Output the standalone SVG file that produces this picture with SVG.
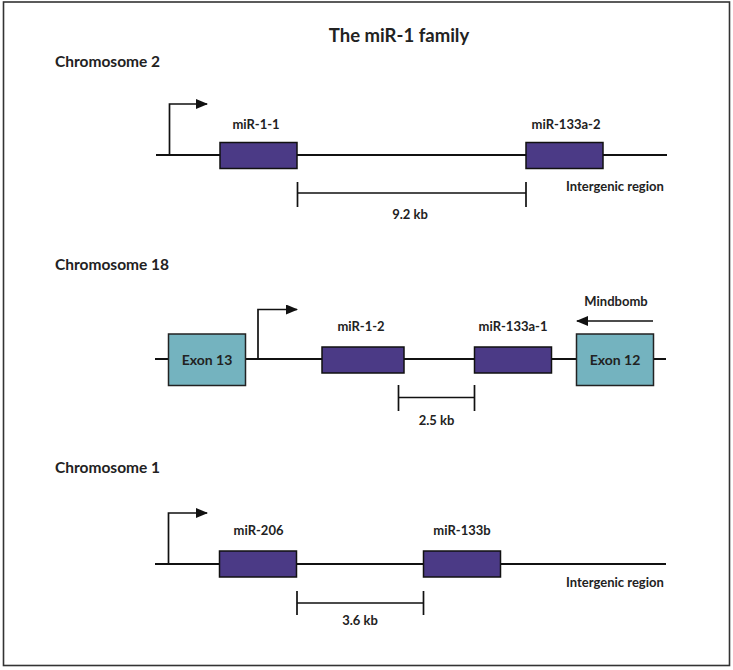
<svg xmlns="http://www.w3.org/2000/svg" width="733" height="670" viewBox="0 0 733 670">
<defs>
<marker id="ah" viewBox="0 0 12 10" refX="11" refY="5" markerWidth="12" markerHeight="10" markerUnits="userSpaceOnUse" orient="auto">
<path d="M0,0 L12,5 L0,10 Z" fill="#111"/>
</marker>
<style>
text{font-family:Lato,"Liberation Sans",sans-serif;font-weight:bold;fill:#222;}
.t{font-size:18.5px;}
.c{font-size:15.5px;}
.l{font-size:13px;}
.x{font-size:14px;}
.m{fill:#4b3a86;stroke:#111;stroke-width:1.5;}
.e{fill:#74b3bf;stroke:#222;stroke-width:1.5;}
.ln{stroke:#111;stroke-width:1.8;fill:none;}
.ar{stroke:#111;stroke-width:1.7;fill:none;}
</style>
</defs>
<rect x="3.5" y="2" width="726" height="663.5" fill="#fff" stroke="#333" stroke-width="1.6"/>
<text class="t" x="399" y="42" text-anchor="middle">The miR-1 family</text>
<text class="c" x="55" y="67">Chromosome 2</text>
<text class="c" x="55" y="270">Chromosome 18</text>
<text class="c" x="55" y="473">Chromosome 1</text>
<g id="connectors">
<line class="ln" x1="156" y1="155" x2="667" y2="155"/>
<line class="ln" x1="155" y1="359" x2="666" y2="359"/>
<line class="ln" x1="155" y1="564" x2="666" y2="564"/>
<path class="ar" d="M169.5,155 V104 H207" marker-end="url(#ah)"/>
<path class="ar" d="M258,359 V309.5 H297" marker-end="url(#ah)"/>
<path class="ar" d="M168.5,564 V513 H207" marker-end="url(#ah)"/>
<line class="ar" x1="653" y1="321" x2="577" y2="321" marker-end="url(#ah)"/>
<path class="ar" d="M297.5,182 V207 M297.5,193 H526 M526,182 V207"/>
<path class="ar" d="M398.5,385 V411 M398.5,397.5 H474.5 M474.5,385 V411"/>
<path class="ar" d="M297,591 V615 M297,603 H423.5 M423.5,591 V615"/>
</g>
<g id="mir-1-1"><rect class="m" x="220" y="142.5" width="77" height="26"/><text class="l" x="256" y="129" text-anchor="middle">miR-1-1</text></g>
<g id="mir-133a-2"><rect class="m" x="526" y="142.5" width="77" height="26"/><text class="l" x="566" y="129" text-anchor="middle">miR-133a-2</text></g>
<g id="ig1"><text class="l" x="566" y="191">Intergenic region</text></g>
<g id="kb1"><text class="l" x="410" y="219" text-anchor="middle">9.2 kb</text></g>
<g id="exon13"><rect class="e" x="168.5" y="334" width="77" height="51.5"/><text class="x" x="207" y="364.5" text-anchor="middle">Exon 13</text></g>
<g id="mir-1-2"><rect class="m" x="322" y="347" width="82" height="26"/><text class="l" x="361" y="331" text-anchor="middle">miR-1-2</text></g>
<g id="mir-133a-1"><rect class="m" x="474.5" y="347" width="77" height="26"/><text class="l" x="513" y="331" text-anchor="middle">miR-133a-1</text></g>
<g id="exon12"><rect class="e" x="576.5" y="334" width="77" height="51.5"/><text class="x" x="615" y="364.5" text-anchor="middle">Exon 12</text></g>
<g id="mindbomb"><text class="l" x="616" y="306" text-anchor="middle">Mindbomb</text></g>
<g id="kb2"><text class="l" x="436.5" y="425" text-anchor="middle">2.5 kb</text></g>
<g id="mir-206"><rect class="m" x="219.5" y="551" width="77" height="26"/><text class="l" x="258.5" y="535" text-anchor="middle">miR-206</text></g>
<g id="mir-133b"><rect class="m" x="423.5" y="551" width="77" height="26"/><text class="l" x="462" y="535" text-anchor="middle">miR-133b</text></g>
<g id="ig2"><text class="l" x="566" y="587">Intergenic region</text></g>
<g id="kb3"><text class="l" x="360" y="625" text-anchor="middle">3.6 kb</text></g>
</svg>
